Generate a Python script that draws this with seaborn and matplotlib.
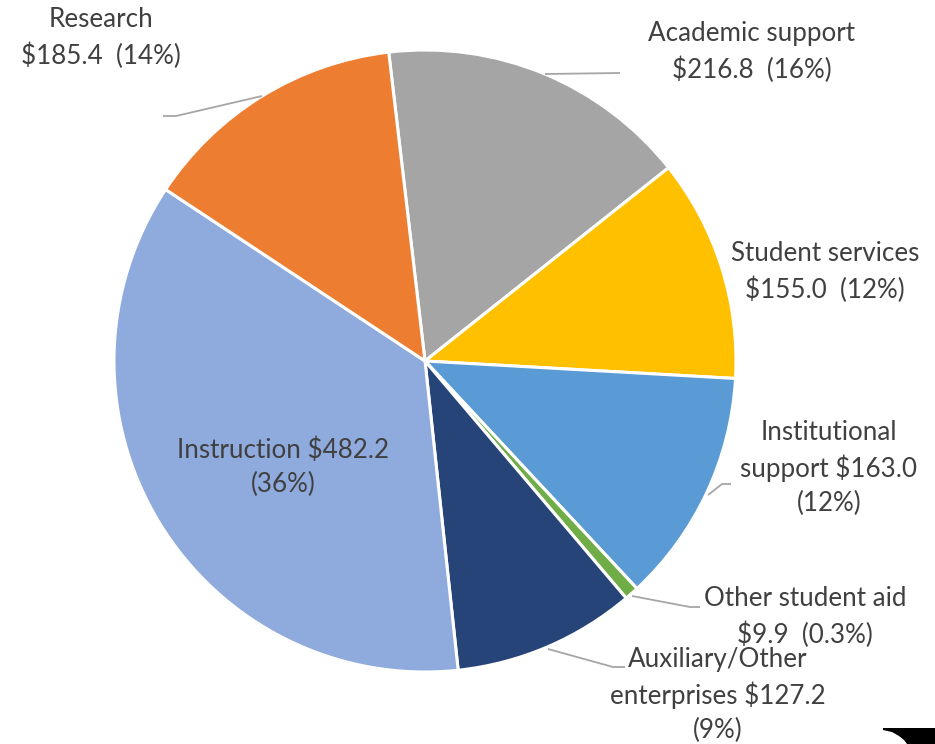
import matplotlib
matplotlib.use("Agg")
import matplotlib.pyplot as plt
import seaborn as sns
import numpy as np
from matplotlib.patches import Polygon

# ---- data (clockwise order, starting with Academic support) ----
categories = ["Academic support", "Student services", "Institutional support",
              "Other student aid", "Auxiliary/Other enterprises", "Instruction", "Research"]
values = [216.8, 155.0, 163.0, 9.9, 127.2, 482.2, 185.4]
label_texts = [
    "Academic support\n$216.8  (16%)",
    "Student services\n$155.0  (12%)",
    "Institutional\nsupport $163.0\n(12%)",
    "Other student aid\n$9.9  (0.3%)",
    "Auxiliary/Other\nenterprises $127.2\n(9%)",
    "Instruction $482.2\n(36%)",
    "Research\n$185.4  (14%)",
]
colors = ["#A5A5A5", "#FFC000", "#5B9BD5", "#70AD47", "#264478", "#8FAADC", "#ED7D31"]

# ---- layout (pixel coordinates, y measured from top) ----
W, H = 935, 744
center_px = (425, 361)
radius_px = 311
label_pos = [(752, 52), (825, 272), (829, 468), (805, 617), (718, 695), (283, 467), (101, 38)]
leaders = [
    [(545, 74), (620, 73)],
    None,
    [(708, 495), (722, 484), (731, 484)],
    [(632, 596), (690, 607), (700, 607)],
    [(548, 649), (613, 667), (625, 667)],
    None,
    [(262, 96), (176, 116), (163, 116)],
]

sns.set_theme(style="white")
plt.rcParams['font.family'] = ['Lato', 'DejaVu Sans']

fig = plt.figure(figsize=(W / 100, H / 100), dpi=100)
ax = fig.add_axes([0, 0, 1, 1])
ax.set_xlim(0, W)
ax.set_ylim(0, H)
ax.set_aspect('equal')
ax.axis('off')

def fy(y):
    return H - y

ax.pie(values, colors=colors, startangle=96.7, counterclock=False,
       center=(center_px[0], fy(center_px[1])), radius=radius_px,
       wedgeprops=dict(edgecolor="white", linewidth=2.2), frame=False)
ax.set_xlim(0, W)
ax.set_ylim(0, H)

text_color = "#404040"
for txt, (x, y) in zip(label_texts, label_pos):
    ax.text(x, fy(y), txt, ha="center", va="center", fontsize=18.7,
            color=text_color, linespacing=1.45)

for pts in leaders:
    if pts is None:
        continue
    xs = [p[0] for p in pts]
    ys = [fy(p[1]) for p in pts]
    ax.plot(xs, ys, color="#A6A6A6", lw=1.3, solid_capstyle="butt")

# black corner artifact at bottom right
corner = [(883, 728), (935, 728), (935, 744), (907, 744), (904, 740), (899, 736), (892, 732), (883, 730)]
ax.add_patch(Polygon([(x, fy(y)) for x, y in corner], closed=True, color="black", lw=0))

fig.savefig("out.png", dpi=100)
